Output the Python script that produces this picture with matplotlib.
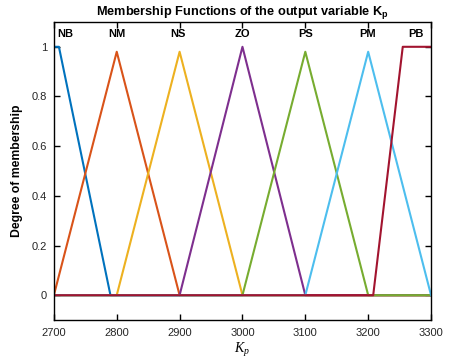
import matplotlib
matplotlib.use('Agg')
import matplotlib.pyplot as plt

# membership function names and their vertices (x, degree)
mf_names = ['NB', 'NM', 'NS', 'ZO', 'PS', 'PM', 'PB']
nb_x = [2700, 2708, 2790, 3300]
nb_y = [1, 1, 0, 0]
nm_x = [2700, 2800, 2900, 3300]
nm_y = [0, 0.98, 0, 0]
ns_x = [2700, 2800, 2900, 3000, 3300]
ns_y = [0, 0, 0.98, 0, 0]
zo_x = [2700, 2900, 3000, 3100, 3300]
zo_y = [0, 0, 1, 0, 0]
ps_x = [2700, 3000, 3100, 3200, 3300]
ps_y = [0, 0, 0.98, 0, 0]
pm_x = [2700, 3100, 3200, 3300]
pm_y = [0, 0, 0.98, 0]
pb_x = [2700, 3208, 3255, 3300]
pb_y = [0, 0, 1, 1]
label_x = [2718, 2800, 2898, 3000, 3101, 3199, 3276]
x_ticks = [2700, 2800, 2900, 3000, 3100, 3200, 3300]
y_ticks = [0, 0.2, 0.4, 0.6, 0.8, 1]
y_ticklabels = ['0', '0.2', '0.4', '0.6', '0.8', '1']

colors = ['#0072BD', '#D95319', '#EDB120', '#7E2F8E',
          '#77AC30', '#4DBEEE', '#A2142F']

plt.rcParams['font.family'] = ['Liberation Sans', 'DejaVu Sans']
plt.rcParams['mathtext.fontset'] = 'custom'
plt.rcParams['mathtext.rm'] = 'Liberation Sans'
plt.rcParams['mathtext.bf'] = 'Liberation Sans:bold'
plt.rcParams['mathtext.it'] = 'Liberation Serif:italic'

fig = plt.figure(figsize=(4.49, 3.6), dpi=100)
ax = fig.add_axes([0.120, 0.111, 0.840, 0.828])

xs = [nb_x, nm_x, ns_x, zo_x, ps_x, pm_x, pb_x]
ys = [nb_y, nm_y, ns_y, zo_y, ps_y, pm_y, pb_y]
for x, y, c in zip(xs, ys, colors):
    ax.plot(x, y, color=c, linewidth=1.5, solid_joinstyle='round')

for name, lx in zip(mf_names, label_x):
    ax.text(lx, 1.05, name, ha='center', va='center',
            fontsize=8, fontweight='bold')

ax.set_xlim(2700, 3300)
ax.set_ylim(-0.1, 1.1)
ax.set_xticks(x_ticks)
ax.set_yticks(y_ticks)
ax.set_yticklabels(y_ticklabels)
ax.tick_params(direction='in', length=4, width=1, labelsize=8,
               top=True, right=True, labelcolor='#262626')
ax.tick_params(axis='x', pad=6)
ax.tick_params(axis='y', pad=5)
for s in ax.spines.values():
    s.set_linewidth(1.0)

ax.set_title(r'Membership Functions of the output variable $\mathbf{K_p}$',
             fontsize=9.2, fontweight='bold', pad=5)
ax.set_ylabel('Degree of membership', fontsize=8.8, fontweight='bold',
              labelpad=6)
ax.set_xlabel(r'$K_p$', fontsize=10, labelpad=2)

fig.savefig('out.png', dpi=100)
